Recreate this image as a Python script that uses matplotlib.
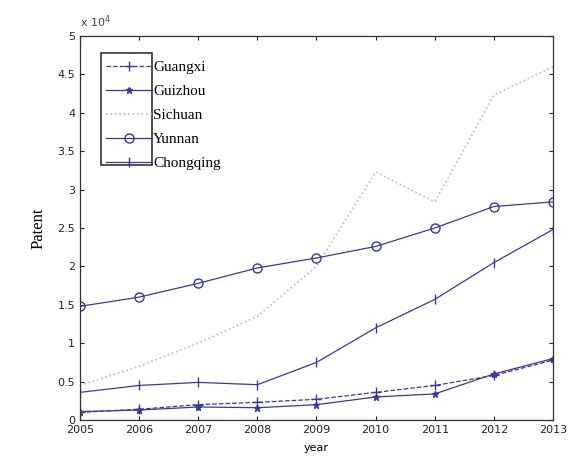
import matplotlib
matplotlib.use("Agg")
import matplotlib.pyplot as plt
from matplotlib.patches import Rectangle
from matplotlib.ticker import FuncFormatter

# Datos
years = [2005, 2006, 2007, 2008, 2009, 2010, 2011, 2012, 2013]
guangxi = [1000, 1400, 2000, 2300, 2700, 3600, 4500, 5800, 7800]
guizhou = [1100, 1300, 1700, 1600, 2000, 3000, 3400, 6000, 8000]
sichuan = [4500, 7000, 10000, 13500, 20000, 32300, 28400, 42300, 46000]
yunnan = [14800, 16000, 17800, 19800, 21100, 22600, 25000, 27800, 28400]
chongqing = [3600, 4500, 4900, 4600, 7500, 12000, 15700, 20500, 24800]

navy = '#3a3a96'

fig = plt.figure(figsize=(5.73, 4.61), dpi=100)
ax = fig.add_axes([0.1396, 0.0889, 0.8255, 0.833])

ax.plot(years, guangxi, color=navy, ls='--', marker='+', ms=7, lw=0.9, label='Guangxi')
ax.plot(years, guizhou, color=navy, ls='-', marker='*', ms=5, lw=0.9, label='Guizhou')
ax.plot(years, sichuan, color='#b8b8c8', ls=':', lw=1.2, label='Sichuan')
ax.plot(years, yunnan, color=navy, ls='-', marker='o', ms=6.5, mfc='none', lw=0.9, label='Yunnan')
ax.plot(years, chongqing, color=navy, ls='-', marker='|', ms=7, lw=0.9, label='Chongqing')

ax.set_xlim(2005, 2013)
ax.set_ylim(0, 50000)
ax.set_xticks(years)
ax.set_yticks(range(0, 50001, 5000))
ax.yaxis.set_major_formatter(FuncFormatter(lambda v, p: f"{v / 1e4:g}"))
ax.tick_params(direction='in', top=True, right=True, labelsize=8, colors='#222222', length=3)
for s in ax.spines.values():
    s.set_color('#333333')
    s.set_linewidth(0.9)

ax.text(0.0, 1.015, r'x 10$^4$', transform=ax.transAxes, fontsize=8, color='#444444',
        ha='left', va='bottom')

ax.set_xlabel('year', fontsize=8, labelpad=6)
ax.set_ylabel('Patent', fontsize=12, family='Liberation Serif', labelpad=8)

leg = ax.legend(loc='upper left', bbox_to_anchor=(0.043, 0.953), frameon=False,
                prop={'family': 'Liberation Serif', 'size': 11}, handlelength=3.0,
                handletextpad=0.05, labelspacing=0.68, borderaxespad=0)
ax.add_patch(Rectangle((0.044, 0.664), 0.108, 0.292, transform=ax.transAxes,
                       fill=False, ec='#333333', lw=1.2, zorder=5))

plt.savefig("out.png", dpi=100)
